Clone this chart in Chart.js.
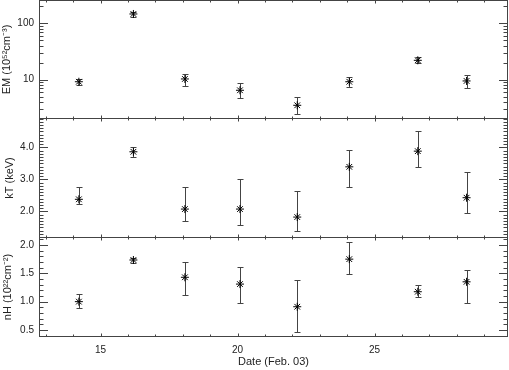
<!DOCTYPE html>
<html><head><meta charset="utf-8">
<script src="https://cdn.jsdelivr.net/npm/chart.js@4.4.0/dist/chart.umd.min.js"></script>
<style>
html,body{margin:0;padding:0;background:#fff;width:509px;height:370px;overflow:hidden}
canvas{position:absolute;left:0}
</style></head><body>
<canvas id="c1" width="509" height="119" style="top:0px"></canvas>
<canvas id="c2" width="509" height="120" style="top:118px"></canvas>
<canvas id="c3" width="509" height="133" style="top:237px"></canvas>
<script>
// ---- data ----
const dates  = [14.21, 16.20, 18.08, 20.09, 22.18, 24.08, 26.58, 28.36];
const emVal  = [9.2, 145, 10.3, 6.5, 3.53, 9.2, 22.0, 9.5];
const emLo   = [7.96, 130, 7.8, 4.7, 2.44, 7.5, 19.5, 7.05];
const emHi   = [10.4, 159, 12.6, 8.6, 5.0, 11.0, 24.8, 12.1];
const ktVal  = [2.375, 3.86, 2.07, 2.07, 1.82, 3.39, 3.88, 2.425];
const ktLo   = [2.23, 3.69, 1.71, 1.57, 1.37, 2.77, 3.375, 1.94];
const ktHi   = [2.77, 4.02, 2.75, 3.0, 2.64, 3.92, 4.52, 3.24];
const nhVal  = [1.0, 1.735, 1.43, 1.31, 0.91, 1.75, 1.175, 1.35];
const nhLo   = [0.89, 1.69, 1.12, 0.98, 0.47, 1.49, 1.08, 0.98];
const nhHi   = [1.13, 1.765, 1.705, 1.61, 1.377, 2.06, 1.29, 1.555];

// ---- ticks ----
const xMajor  = [15, 20, 25];
const xMinor  = [13, 14, 16, 17, 18, 19, 21, 22, 23, 24, 26, 27, 28, 29];
const emMajor = [10, 100];
const emMinor = [3, 4, 5, 6, 7, 8, 9, 20, 30, 40, 50, 60, 70, 80, 90, 200];
const ktMajor = [2, 3, 4];
const nhMajor = [0.5, 1.0, 1.5, 2.0];
function tenths(a, b) { const r = []; for (let k = a; k <= b; k++) r.push(k / 10); return r; }
const ktMinor = tenths(12, 49).filter(v => !ktMajor.includes(v));
const nhMinor = tenths(4, 21).filter(v => !nhMajor.includes(v));

const X_MIN = 12.755, X_MAX = 29.872;
const FONT = { family: 'Liberation Sans, Arial, sans-serif', size: 10 };
const TFONT = { family: 'Liberation Sans, Arial, sans-serif', size: 11 };
const TXT = '#222';
const LINE = '#444';

function makePlugin(cfg) {
  return {
    id: 'panelDeco',
    beforeDatasetsDraw(chart) {
      const { ctx, scales: { x, y } } = chart;
      ctx.save();
      ctx.strokeStyle = LINE; ctx.lineWidth = 1;
      cfg.lo.forEach((lo, i) => {
        const px = Math.round(x.getPixelForValue(dates[i])) + 0.5;
        const p1 = Math.round(y.getPixelForValue(lo)) + 0.5;
        const p2 = Math.round(y.getPixelForValue(cfg.hi[i])) + 0.5;
        ctx.beginPath();
        ctx.moveTo(px, p1); ctx.lineTo(px, p2);
        ctx.moveTo(px - 3, p1); ctx.lineTo(px + 3, p1);
        ctx.moveTo(px - 3, p2); ctx.lineTo(px + 3, p2);
        ctx.stroke();
      });
      ctx.restore();
    },
    afterDraw(chart) {
      const { ctx, chartArea: a, scales: { x, y } } = chart;
      ctx.save();
      ctx.strokeStyle = LINE; ctx.lineWidth = 1;
      ctx.strokeRect(a.left + 0.5, a.top + 0.5, a.right - a.left - 1, a.bottom - a.top - 1);
      ctx.beginPath();
      const yt = (list, len) => list.forEach(v => {
        const py = Math.round(y.getPixelForValue(v)) + 0.5;
        ctx.moveTo(a.left, py); ctx.lineTo(a.left + len, py);
        ctx.moveTo(a.right, py); ctx.lineTo(a.right - len, py);
      });
      const xt = (list, len) => list.forEach(v => {
        const px = Math.round(x.getPixelForValue(v)) + 0.5;
        ctx.moveTo(px, a.top); ctx.lineTo(px, a.top + len);
        ctx.moveTo(px, a.bottom); ctx.lineTo(px, a.bottom - len);
      });
      yt(cfg.major, 9); yt(cfg.minor, 4.5);
      xt(xMajor, 3.5); xt(xMinor, 2.5);
      ctx.stroke();
      ctx.restore();
    }
  };
}

function panel(id, cfg) {
  return new Chart(document.getElementById(id), {
    type: 'scatter',
    data: { datasets: [{
      data: cfg.vals.map((v, i) => ({ x: dates[i], y: v })),
      pointStyle: 'star', radius: 4, borderColor: '#000', backgroundColor: '#000', borderWidth: 1
    }] },
    options: {
      responsive: false, animation: false, devicePixelRatio: 1,
      layout: { autoPadding: false, padding: { left: 0, right: 1, top: 0, bottom: 0 } },
      plugins: { legend: { display: false }, tooltip: { enabled: false } },
      scales: {
        x: {
          type: 'linear', min: X_MIN, max: X_MAX, display: cfg.showX,
          grid: { display: false, drawTicks: false }, border: { display: false },
          afterBuildTicks: s => { s.ticks = xMajor.map(v => ({ value: v })); },
          ticks: { font: FONT, color: TXT, padding: 7, autoSkip: false, maxRotation: 0, callback: v => String(v) },
          title: { display: true, text: 'Date (Feb. 03)', font: TFONT, color: TXT, padding: { top: 0, bottom: 1.5 } },
          afterFit: s => { s.height = cfg.showX ? 33 : 0; s.paddingLeft = 0; s.paddingRight = 0; }
        },
        y: {
          type: cfg.log ? 'logarithmic' : 'linear', min: cfg.min, max: cfg.max,
          grid: { display: false, drawTicks: false }, border: { display: false },
          afterBuildTicks: s => { s.ticks = cfg.major.map(v => ({ value: v })); },
          ticks: { font: FONT, color: TXT, padding: 5, autoSkip: false, callback: cfg.fmt },
          title: { display: true, text: cfg.title, font: TFONT, color: TXT, padding: { top: cfg.tp, bottom: 0 } },
          afterFit: s => { s.width = 39; s.paddingTop = 0; s.paddingBottom = 0; }
        }
      }
    },
    plugins: [makePlugin(cfg)]
  });
}

panel('c1', { vals: emVal, lo: emLo, hi: emHi, log: true, min: 2.02, max: 256,
  major: emMajor, minor: emMinor, fmt: v => String(v), title: 'EM (10⁵²cm⁻³)', tp: 0, showX: false });
panel('c2', { vals: ktVal, lo: ktLo, hi: ktHi, log: false, min: 1.166, max: 4.916,
  major: ktMajor, minor: ktMinor, fmt: v => Number(v).toFixed(1), title: 'kT (keV)', tp: 3, showX: false });
panel('c3', { vals: nhVal, lo: nhLo, hi: nhHi, log: false, min: 0.376, max: 2.141,
  major: nhMajor, minor: nhMinor, fmt: v => Number(v).toFixed(1), title: 'nH (10²²cm⁻²)', tp: 1.5, showX: true });
</script>
</body></html>
